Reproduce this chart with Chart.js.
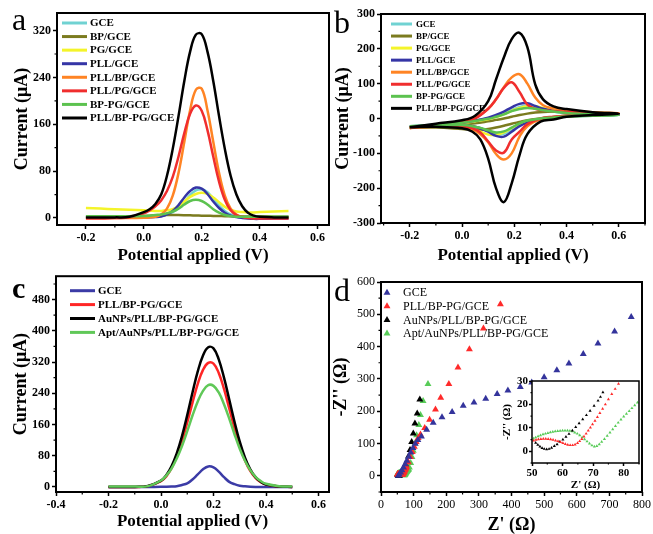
<!DOCTYPE html>
<html>
<head>
<meta charset="utf-8">
<script src="https://cdn.jsdelivr.net/npm/chart.js@4.4.1/dist/chart.umd.min.js"></script>
<style>
  html, body { margin: 0; padding: 0; background: #fff; }
  #fig { position: relative; width: 653px; height: 534px; overflow: hidden; }
  #fig canvas { position: absolute; }
</style>
</head>
<body>
<div id="fig">
  <canvas id="chartA" width="335" height="267" style="left:0;top:0"></canvas>
  <canvas id="chartB" width="323" height="267" style="left:330px;top:0"></canvas>
  <canvas id="chartC" width="335" height="267" style="left:0;top:267px"></canvas>
  <canvas id="chartD" width="323" height="267" style="left:330px;top:267px"></canvas>
  <canvas id="chartInset" width="150" height="122" style="left:498px;top:372px"></canvas>
</div>
<script>
// ---- data ----
const labelsAB = ['GCE', 'BP/GCE', 'PG/GCE', 'PLL/GCE', 'PLL/BP/GCE', 'PLL/PG/GCE', 'BP-PG/GCE', 'PLL/BP-PG/GCE'];
const labelsCD = ['GCE', 'PLL/BP-PG/GCE', 'AuNPs/PLL/BP-PG/GCE', 'Apt/AuNPs/PLL/BP-PG/GCE'];

// DPV potentials (V), shared by panels a and c
const dpvPotential = [-0.2, -0.15, -0.1, -0.05, 0, 0.02, 0.04, 0.06, 0.08, 0.10, 0.12, 0.14, 0.16, 0.18, 0.20,
  0.22, 0.24, 0.26, 0.28, 0.30, 0.32, 0.34, 0.36, 0.38, 0.40, 0.45, 0.5];

// panel a, current (uA)
const gceA = [3, 3, 3, 3, 3, 3, 3.5, 4, 6, 10, 17, 27, 39, 47, 49, 44, 33, 21, 12, 6, 3, 2, 1.5, 1.5, 1.5, 1.5, 1.5];
const bpA = [2, 2, 2.5, 3, 3.5, 4, 4.5, 4.5, 5, 5, 5, 4.8, 4.5, 4.3, 4, 3.8, 3.5, 3.3, 3, 3, 2.8, 2.7, 2.6, 2.5, 2.5, 2.2, 2];
const pgA = [17, 16, 15, 14, 13, 12.5, 12, 12, 13, 15, 20, 28, 36, 41, 43, 41, 35, 27, 19, 14, 11, 10, 9.5, 9.5, 10, 11, 12];
const pllA = [1, 1, 1, 1, 1, 1.2, 1.5, 2.5, 6, 12, 22, 35, 46, 52, 50, 41, 28, 17, 9, 4, 1.5, 0, -1, -1.5, -1.5, -1, -1];
const pllBpA = [0, 0, 0, 0, 0.5, 1, 2, 6, 16, 38, 77, 130, 184, 219, 221, 184, 130, 77, 38, 16, 6, 2, 1, 0.5, 0.5, 0.5, 0.5];
const pllPgA = [-1, -1, 0, 1, 8, 13, 20, 30, 46, 70, 105, 145, 178, 192, 183, 150, 105, 62, 31, 13, 5, 2, 0, -1, -1, -1, -1];
const bpPgA = [3, 3, 3, 3, 3.5, 4, 5, 6, 8, 11, 16, 23, 29, 31, 29, 23, 15, 9, 5, 3, 2, 2, 2, 2, 2, 2, 2];
const allA = [1, 1, 1, 2, 10, 15, 24, 40, 72, 118, 174, 234, 284, 313, 314, 284, 234, 174, 118, 72, 40, 20, 9, 4, 2, 1, 1];

// panel b, CV loop: forward scan then reverse scan
const cvPotential = [-0.2, -0.1, 0, 0.05, 0.1, 0.13, 0.16, 0.19, 0.22, 0.25, 0.28, 0.31, 0.35, 0.4, 0.5, 0.6,
  0.5, 0.4, 0.35, 0.3, 0.25, 0.22, 0.19, 0.16, 0.13, 0.1, 0.07, 0.04, 0, -0.1, -0.2];
const gceB = [-24, -17, -11, -6, 0, 6, 14, 24, 33, 37, 35, 28, 20, 14, 10, 9,
  8, 5, 3, -1, -8, -17, -32, -44, -45, -36, -28, -23, -20, -19, -22];
const bpB = [-26, -22, -18, -14, -8, -4, 0, 5, 10, 14, 17, 19, 20, 20, 17, 14,
  12, 8, 4, 0, -5, -10, -15, -21, -26, -30, -32, -32, -30, -26, -26];
const pgB = [-26, -19, -13, -8, -2, 4, 12, 22, 30, 35, 35, 30, 24, 18, 13, 11,
  9, 6, 3, -1, -8, -16, -27, -40, -47, -46, -38, -31, -25, -22, -25];
const pllB = [-25, -18, -12, -6, 2, 10, 20, 32, 42, 44, 36, 28, 22, 17, 13, 11,
  9, 6, 3, -2, -12, -22, -38, -52, -50, -38, -28, -22, -20, -20, -23];
const pllBpB = [-28, -18, -8, 2, 28, 55, 90, 118, 127, 100, 60, 38, 29, 24, 18, 15,
  12, 6, 2, -3, -22, -52, -100, -118, -102, -68, -45, -32, -25, -24, -27];
const pllPgB = [-27, -18, -12, 0, 28, 55, 88, 104, 76, 40, 28, 24, 21, 19, 16, 14,
  12, 8, 5, 0, -16, -38, -60, -98, -92, -66, -40, -28, -22, -22, -25];
const bpPgB = [-25, -18, -12, -7, -1, 5, 12, 21, 27, 30, 28, 24, 20, 16, 12, 10,
  8, 6, 3, 0, -6, -14, -26, -37, -40, -34, -27, -22, -19, -19, -22];
const allB = [-25, -15, -5, 8, 50, 112, 175, 228, 246, 205, 98, 55, 35, 27, 18, 14,
  10, 5, -3, -9, -45, -105, -186, -240, -200, -115, -60, -38, -28, -24, -25];

// panel c, current (uA)
const gceC = [0, 0, 0, 0, 0.3, 0.5, 1, 2, 5, 9, 19, 32, 45, 52.5, 50, 39, 25, 13, 7, 3, 1.5, 0.5, 0, 0, 0, 0, 0];
const allC = [0, 0, 0, 2, 15, 27, 48, 78, 117, 165, 216, 264, 300, 318, 316, 292, 251, 201, 150, 105, 68, 41, 23, 12, 6, 1, 0];
const auC = [0, 0, 0, 2.5, 16, 30, 53, 86, 130, 184, 242, 296, 337, 358, 355, 327, 280, 224, 167, 116, 75, 45, 25, 13, 6, 1, 0];
const aptC = [1, 1, 1, 2, 16.5, 29, 47, 73, 105, 143, 183, 219, 246, 261, 259, 242, 212, 175, 135, 98, 67, 43, 26, 15, 8, 2, 1];

// panel d, Nyquist: Z' and -Z'' (ohm)
const gceRe = [53, 56, 60, 64, 69, 74, 79, 85, 91, 98, 105, 113, 124, 140, 160, 187, 218, 252, 285, 321,
  356, 389, 427, 462, 500, 539, 576, 620, 665, 716, 767];
const gceIm = [0, 4, 10, 17, 26, 36, 47, 59, 72, 86, 99, 111, 122, 143, 164, 181, 198, 217, 227, 239,
  253, 264, 275, 289, 305, 327, 348, 377, 410, 447, 492];
const allRe = [50.5, 51.3, 52.1, 52.9, 53.7, 54.5, 55.3, 56.1, 56.9, 57.7, 58.5, 59.3, 60.1, 60.9, 61.7, 62.5, 63.3,
  64.1, 64.9, 65.6, 66.3, 67.0, 67.7, 68.4, 69.1, 69.8, 70.6, 71.4, 72.2, 73.1, 74.0, 75.0, 76.1, 77.2, 78.3,
  84, 90, 96, 102, 108, 114, 121, 134, 149, 167, 183, 208, 236, 271, 314, 366];
const allIm = [4.6, 4.9, 5.1, 5.2, 5.3, 5.3, 5.2, 5.1, 4.9, 4.6, 4.3, 3.9, 3.5, 3.1, 2.8, 2.6, 2.6,
  2.9, 3.5, 4.3, 5.2, 6.3, 7.5, 8.8, 10.1, 11.5, 13, 14.6, 16.3, 18.1, 20, 22.2, 24.4, 26.6, 28.8,
  42, 58, 74, 90, 105, 117, 128, 148, 174, 205, 242, 284, 335, 392, 456, 531];
const auRe = [51.2, 51.9, 52.6, 53.3, 54.0, 54.8, 55.6, 56.4, 57.3, 58.2, 59.1, 60.1, 61.1, 62.1, 63.2, 64.3,
  65.4, 66.6, 67.8, 69.0, 70.3, 71.6, 72.4, 73.2, 76, 79, 84, 89, 94, 99, 104, 111, 119];
const auIm = [3.6, 2.8, 2.0, 1.4, 1.0, 0.8, 1.0, 1.5, 2.2, 3.0, 4.0, 5.0, 6.2, 7.4, 8.8, 10.3,
  11.9, 13.6, 15.4, 17.3, 19.4, 21.6, 23.2, 25.2, 34, 43, 60, 80, 105, 131, 162, 193, 236];
const aptRe = [50.5, 51.2, 52.0, 52.8, 53.6, 54.4, 55.2, 56.0, 56.8, 57.6, 58.4, 59.2, 60.0, 60.8, 61.6, 62.4,
  63.2, 64.0, 64.8, 65.6, 66.4, 67.2, 68.0, 68.8, 69.6, 70.4, 71.2, 72.0, 72.8, 73.7, 74.6, 75.5, 76.4, 77.3,
  78.2, 79.1, 80.0, 80.9, 81.8, 82.7, 83.6, 84.5, 87, 91, 95, 99, 104, 109, 116, 121, 129, 144];
const aptIm = [5.4, 5.9, 6.4, 6.8, 7.2, 7.5, 7.8, 8.1, 8.3, 8.5, 8.6, 8.7, 8.8, 8.8, 8.8, 8.7,
  8.5, 8.0, 7.5, 6.8, 6.0, 5.1, 4.2, 3.3, 2.5, 2.0, 2.2, 3.0, 4.0, 5.2, 6.6, 8.0, 9.4, 10.8,
  12.2, 13.5, 14.8, 16.0, 17.2, 18.4, 19.6, 20.8, 26, 40, 58, 78, 100, 126, 157, 188, 232, 284];

// tick labels
const aXTicks = [-0.2, 0, 0.2, 0.4, 0.6];
const aYTicks = [0, 80, 160, 240, 320];
const bXTicks = [-0.2, 0, 0.2, 0.4, 0.6];
const bYTicks = [-300, -200, -100, 0, 100, 200, 300];
const cXTicks = [-0.4, -0.2, 0, 0.2, 0.4, 0.6];
const cYTicks = [0, 80, 160, 240, 320, 400, 480];
const dXTicks = [0, 100, 200, 300, 400, 500, 600, 700, 800];
const dYTicks = [0, 100, 200, 300, 400, 500, 600];
const insetXTicks = [50, 60, 70, 80];
const insetYTicks = [0, 10, 20, 30];

// ---- styles ----
const SERIF = '"Liberation Serif", "Times New Roman", serif';
const paletteAB = ['#70d2d2', '#7b7b1f', '#f4f42a', '#3535a6', '#ff8424', '#f02e2e', '#5cc24f', '#000000'];
const paletteCD = ['#3b3ba6', '#ff2626', '#000000', '#60c858'];
const paletteD = ['#34349c', '#ff2a2a', '#000000', '#58cc58'];

// box round the plot area, short minor ticks, white fill for the inset
const framePlugin = {
  id: 'frame',
  beforeDatasetsDraw(chart, args, o) {
    if (!o.fill) return;
    const a = chart.chartArea;
    chart.ctx.save();
    chart.ctx.fillStyle = o.fill;
    chart.ctx.fillRect(a.left, a.top, a.right - a.left, a.bottom - a.top);
    chart.ctx.restore();
  },
  afterDatasetsDraw(chart, args, o) {
    const a = chart.chartArea, ctx = chart.ctx;
    ctx.save();
    ctx.strokeStyle = '#000';
    ctx.lineWidth = o.width || 2;
    ctx.strokeRect(a.left, a.top, a.right - a.left, a.bottom - a.top);
    // minor ticks half way between the labelled ones
    const len = o.minor || 0;
    if (len) {
      ctx.lineWidth = 1.2;
      ctx.beginPath();
      ['x', 'y'].forEach(id => {
        const s = chart.scales[id];
        const vals = s.ticks.map(t => t.value);
        const step = vals[1] - vals[0];
        for (let v = vals[0] - step / 2; v <= s.max; v += step) {
          if (v < s.min) continue;
          const p = s.getPixelForValue(v);
          if (id === 'x') { ctx.moveTo(p, a.bottom); ctx.lineTo(p, a.bottom + len); }
          else { ctx.moveTo(a.left - len, p); ctx.lineTo(a.left, p); }
        }
      });
      ctx.stroke();
    }
    ctx.restore();
  }
};

// legend drawn inside the plot
const keyPlugin = {
  id: 'key',
  afterDatasetsDraw(chart, args, o) {
    if (o.y === undefined) return;
    const ctx = chart.ctx;
    ctx.save();
    ctx.font = o.textFont;
    ctx.textBaseline = 'middle';
    chart.data.datasets.forEach((ds, i) => {
      const y = o.y + i * o.step;
      if (o.marker) {
        const r = o.marker;
        ctx.fillStyle = ds.backgroundColor;
        ctx.beginPath();
        ctx.moveTo(o.x, y - r);
        ctx.lineTo(o.x + r * 0.866, y + r / 2);
        ctx.lineTo(o.x - r * 0.866, y + r / 2);
        ctx.closePath();
        ctx.fill();
      } else {
        ctx.strokeStyle = ds.borderColor;
        ctx.lineWidth = o.lineWidth;
        ctx.beginPath();
        ctx.moveTo(o.x, y);
        ctx.lineTo(o.x + o.len, y);
        ctx.stroke();
      }
      ctx.fillStyle = '#000';
      ctx.fillText(ds.label, o.textX, y + 0.5);
    });
    ctx.restore();
  }
};

// panel letter
const tagPlugin = {
  id: 'tag',
  afterDraw(chart, args, o) {
    if (!o.text) return;
    const ctx = chart.ctx;
    ctx.save();
    ctx.font = o.textFont;
    ctx.fillStyle = '#000';
    ctx.textBaseline = 'alphabetic';
    ctx.fillText(o.text, o.x, o.y);
    ctx.restore();
  }
};

function axis(o) {
  const bottom = o.pos === 'bottom';
  return {
    type: 'linear',
    position: o.pos,
    min: o.min,
    max: o.max,
    afterBuildTicks: s => { s.ticks = o.ticks.map(v => ({ value: v })); },
    afterFit: s => { if (bottom) s.height = o.size; else s.width = o.size; },
    ticks: {
      autoSkip: false, maxRotation: 0, minRotation: 0,
      padding: o.tickPad === undefined ? 2 : o.tickPad,
      color: '#000',
      font: { family: SERIF, size: o.tickSize || 12, weight: o.tickWeight || 'bold' },
      callback: o.fmt || (v => String(v))
    },
    grid: { drawOnChartArea: false, drawTicks: true, tickLength: o.tickLen || 4, tickWidth: 1.5, tickColor: '#000' },
    border: { display: false },
    title: {
      display: true,
      text: o.title,
      color: '#000',
      font: { family: SERIF, size: o.titleSize || 18, weight: 'bold', lineHeight: 1 },
      padding: bottom ? { top: 0, bottom: o.titlePad } : { top: o.titlePad, bottom: 0 }
    }
  };
}

function baseOptions(pad, xAxis, yAxis, extra) {
  return {
    responsive: false,
    animation: false,
    devicePixelRatio: 1,
    layout: { padding: pad },
    scales: { x: xAxis, y: yAxis },
    plugins: Object.assign({ legend: { display: false }, tooltip: { enabled: false } }, extra)
  };
}

function curve(label, color, xs, ys, i, n) {
  return {
    label: label,
    borderColor: color,
    backgroundColor: color,
    data: xs.map((x, k) => ({ x: x, y: ys[k] })),
    pointRadius: 0,
    borderWidth: 2.5,
    tension: 0.4,
    fill: false,
    order: n - i
  };
}

function marks(label, color, xs, ys, r) {
  return {
    label: label,
    borderColor: color,
    backgroundColor: color,
    data: xs.map((x, k) => ({ x: x, y: ys[k] })),
    pointStyle: 'triangle',
    pointRadius: r,
    borderWidth: 0,
    showLine: false
  };
}

const oneDec = v => v.toFixed(1);
const plugins = [framePlugin, keyPlugin, tagPlugin];

// a
const seriesA = [gceA, bpA, pgA, pllA, pllBpA, pllPgA, bpPgA, allA];
new Chart(document.getElementById('chartA'), {
  type: 'line',
  data: { datasets: labelsAB.map((l, i) => curve(l, paletteAB[i], dpvPotential, seriesA[i], i, 8)) },
  options: baseOptions({ left: 0, top: 13, right: 6, bottom: 0 },
    axis({ pos: 'bottom', min: -0.3, max: 0.64, ticks: aXTicks, size: 42, fmt: oneDec, title: 'Potential applied (V)', titleSize: 17, titlePad: 2.5 }),
    axis({ pos: 'left', min: -12, max: 350, ticks: aYTicks, size: 57, title: 'Current (μA)', titleSize: 18, titlePad: 13 }),
    {
      frame: { width: 2, minor: 2.5 },
      key: { x: 62, len: 25, textX: 90, y: 23, step: 13.57, textFont: 'bold 11px ' + SERIF, lineWidth: 3 },
      tag: { text: 'a', x: 12, y: 30, textFont: '32px ' + SERIF }
    }),
  plugins: plugins
});

// b
const seriesB = [gceB, bpB, pgB, pllB, pllBpB, pllPgB, bpPgB, allB];
new Chart(document.getElementById('chartB'), {
  type: 'line',
  data: { datasets: labelsAB.map((l, i) => curve(l, paletteAB[i], cvPotential, seriesB[i], i, 8)) },
  options: baseOptions({ left: 0, top: 14, right: 8, bottom: 0 },
    axis({ pos: 'bottom', min: -0.31, max: 0.70, ticks: bXTicks, size: 44, fmt: oneDec, title: 'Potential applied (V)', titleSize: 17, titlePad: 2.5 }),
    axis({ pos: 'left', min: -300, max: 300, ticks: bYTicks, size: 51, title: 'Current (μA)', titleSize: 18, titlePad: 4 }),
    {
      frame: { width: 2, minor: 2.5 },
      key: { x: 61, len: 21, textX: 86, y: 24, step: 12.05, textFont: 'bold 9px ' + SERIF, lineWidth: 3 },
      tag: { text: 'b', x: 4, y: 33, textFont: '32px ' + SERIF }
    }),
  plugins: plugins
});

// c
const seriesC = [gceC, allC, auC, aptC];
new Chart(document.getElementById('chartC'), {
  type: 'line',
  data: { datasets: labelsCD.map((l, i) => curve(l, paletteCD[i], dpvPotential, seriesC[i], i, 4)) },
  options: baseOptions({ left: 0, top: 5, right: 6, bottom: 0 },
    axis({ pos: 'bottom', min: -0.4, max: 0.64, ticks: cXTicks, size: 42, fmt: oneDec, title: 'Potential applied (V)', titleSize: 17, titlePad: 3.5 }),
    axis({ pos: 'left', min: -13, max: 540, ticks: cYTicks, size: 56, title: 'Current (μA)', titleSize: 18, titlePad: 12 }),
    {
      frame: { width: 2, minor: 2.5 },
      key: { x: 70, len: 25, textX: 98, y: 23.7, step: 13.9, textFont: 'bold 11px ' + SERIF, lineWidth: 3 },
      tag: { text: 'c', x: 12, y: 31, textFont: 'bold 30px ' + SERIF }
    }),
  plugins: plugins
});

// d
new Chart(document.getElementById('chartD'), {
  type: 'scatter',
  data: {
    datasets: [
      marks(labelsCD[0], paletteD[0], gceRe, gceIm, 4),
      marks(labelsCD[1], paletteD[1], allRe, allIm, 4),
      marks(labelsCD[2], paletteD[2], auRe, auIm, 4),
      marks(labelsCD[3], paletteD[3], aptRe, aptIm, 4)
    ]
  },
  options: baseOptions({ left: 0, top: 15, right: 10, bottom: 0 },
    axis({ pos: 'bottom', min: 0, max: 800, ticks: dXTicks, size: 42, tickWeight: 'normal', title: "Z' (Ω)", titleSize: 18, titlePad: 0 }),
    axis({ pos: 'left', min: -50, max: 600, ticks: dYTicks, size: 51, tickWeight: 'normal', title: "-Z'' (Ω)", titleSize: 18, titlePad: 2.5 }),
    {
      frame: { width: 2, minor: 2.5 },
      key: { x: 57, marker: 4, textX: 73, y: 25.7, step: 13.6, textFont: '12px ' + SERIF },
      tag: { text: 'd', x: 4, y: 34, textFont: '32px ' + SERIF }
    }),
  plugins: plugins
});

// d inset
new Chart(document.getElementById('chartInset'), {
  type: 'scatter',
  data: {
    datasets: [
      marks(labelsCD[1], paletteD[1], allRe, allIm, 1.8),
      marks(labelsCD[2], paletteD[2], auRe, auIm, 1.8),
      marks(labelsCD[3], paletteD[3], aptRe, aptIm, 1.8)
    ]
  },
  options: baseOptions({ left: 0, top: 9, right: 9, bottom: 0 },
    axis({ pos: 'bottom', min: 50, max: 85, ticks: insetXTicks, size: 31, tickSize: 11, tickLen: 3, tickPad: 1, title: "Z' (Ω)", titleSize: 11, titlePad: 3.5 }),
    axis({ pos: 'left', min: -5, max: 30, ticks: insetYTicks, size: 34, tickSize: 11, tickLen: 3, tickPad: 1, title: "-Z'' (Ω)", titleSize: 11, titlePad: 4 }),
    { frame: { width: 1.5, fill: '#fff', minor: 1.5 } }),
  plugins: plugins
});
</script>
</body>
</html>
